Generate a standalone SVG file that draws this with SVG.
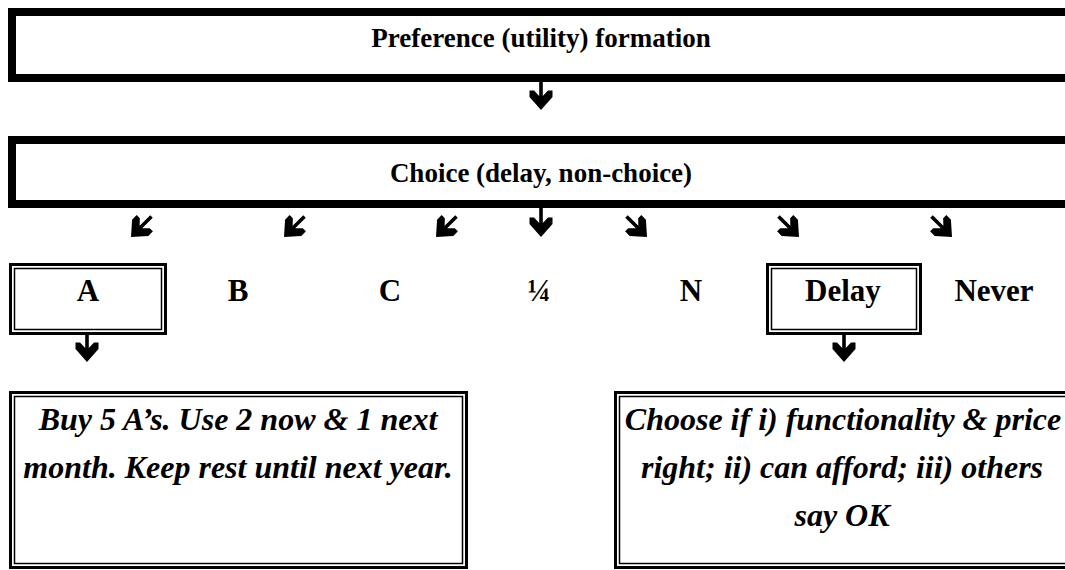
<svg xmlns="http://www.w3.org/2000/svg" xmlns:xlink="http://www.w3.org/1999/xlink" width="1065" height="570" viewBox="0 0 1065 570">
<style>
  .t { font-family: "Liberation Serif", "Times New Roman", serif; font-weight: bold; fill: #000; text-anchor: middle; }
  .h { font-size: 27px; }
  .l { font-size: 31px; }
  .i { font-size: 32px; font-style: italic; }
  .thick { fill: none; stroke: #000; stroke-width: 8; }
  .dbo { fill: none; stroke: #000; stroke-width: 3; }
  .dbi { fill: none; stroke: #000; stroke-width: 1.5; }
  .arr { fill: #000; }
</style>
<defs>
  <path id="arr" class="arr" d="M0,0 L-11.5,-13 L-11.5,-19.5 L-7,-19.5 L-1.8,-14 L-1.8,-29 L1.8,-29 L1.8,-14 L7,-19.5 L11.5,-19.5 L11.5,-13 Z"/>
</defs>
<rect width="1065" height="570" fill="#fff"/>

<g id="preference">
  <rect class="thick" x="12" y="12" width="1100" height="66"/>
  <text class="t h" x="541" y="47">Preference (utility) formation</text>
</g>

<g id="choice">
  <rect class="thick" x="12" y="140" width="1100" height="64"/>
  <text class="t h" x="541" y="182">Choice (delay, non-choice)</text>
</g>

<g id="optA">
  <rect class="dbo" x="10.5" y="264.5" width="155" height="69"/>
  <rect class="dbi" x="14.5" y="268.5" width="147" height="61"/>
  <text class="t l" x="88" y="301">A</text>
</g>
<g id="optB"><text class="t l" x="238" y="301">B</text></g>
<g id="optC"><text class="t l" x="390" y="301">C</text></g>
<g id="optQuarter"><text class="t l" x="539" y="301">¼</text></g>
<g id="optN"><text class="t l" x="691" y="301">N</text></g>
<g id="optDelay">
  <rect class="dbo" x="767.5" y="264.5" width="153" height="69"/>
  <rect class="dbi" x="771.5" y="268.5" width="145" height="61"/>
  <text class="t l" x="843" y="301">Delay</text>
</g>
<g id="optNever"><text class="t l" x="994" y="301">Never</text></g>

<g id="noteA">
  <rect class="dbo" x="10.5" y="392.5" width="456" height="175"/>
  <rect class="dbi" x="14.5" y="396.5" width="448" height="167"/>
  <text class="t i" x="238" y="430">Buy 5 A’s. Use 2 now &amp; 1 next</text>
  <text class="t i" x="238" y="478">month. Keep rest until next year.</text>
</g>

<g id="noteDelay">
  <rect class="dbo" x="615.5" y="392.5" width="500" height="175"/>
  <rect class="dbi" x="619.5" y="396.5" width="500" height="167"/>
  <text class="t i" x="843" y="430">Choose if i) functionality &amp; price</text>
  <text class="t i" x="842" y="478">right; ii) can afford; iii) others</text>
  <text class="t i" x="842" y="526">say OK</text>
</g>

<g id="connectors">
  <use href="#arr" xlink:href="#arr" transform="translate(541,110)"/>
  <use href="#arr" xlink:href="#arr" transform="translate(541,237)"/>
  <use href="#arr" xlink:href="#arr" transform="translate(131,237) rotate(45)"/>
  <use href="#arr" xlink:href="#arr" transform="translate(284,237) rotate(45)"/>
  <use href="#arr" xlink:href="#arr" transform="translate(436,237) rotate(45)"/>
  <use href="#arr" xlink:href="#arr" transform="translate(647,237) rotate(-45)"/>
  <use href="#arr" xlink:href="#arr" transform="translate(799,237) rotate(-45)"/>
  <use href="#arr" xlink:href="#arr" transform="translate(952,237) rotate(-45)"/>
  <use href="#arr" xlink:href="#arr" transform="translate(87,362)"/>
  <use href="#arr" xlink:href="#arr" transform="translate(844,362)"/>
</g>
</svg>
